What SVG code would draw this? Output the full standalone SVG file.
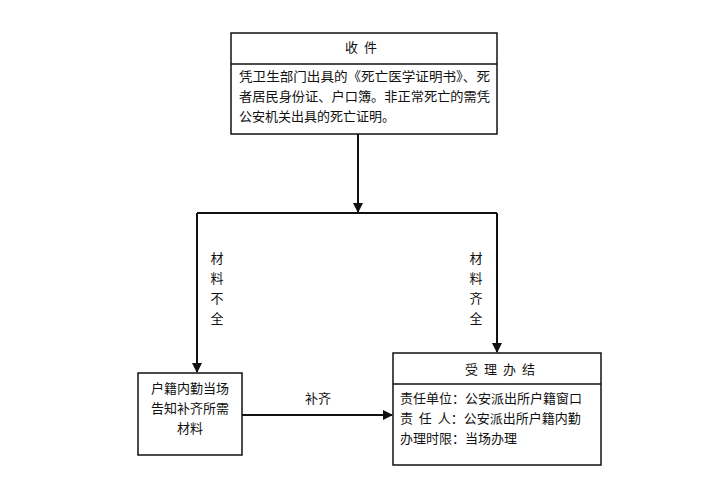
<svg xmlns="http://www.w3.org/2000/svg" width="704" height="500" viewBox="0 0 704 500">
<style>
text{font-family:"Noto Sans CJK SC","Liberation Serif",serif;font-size:13px;fill:#111}
.b{fill:#fff;stroke:#111;stroke-width:1.5}
.c{stroke:#111;stroke-width:2;fill:none}
.m{text-anchor:middle}
</style>
<defs><marker id="a" markerWidth="10" markerHeight="10" refX="9" refY="5" orient="auto" markerUnits="userSpaceOnUse"><path d="M0,0 L10,5 L0,10 z" fill="#111"/></marker></defs>
<rect width="704" height="500" fill="#fff"/>
<g id="connectors">
<path class="c" d="M358,134 V212" marker-end="url(#a)"/>
<path class="c" d="M197,213 H497"/>
<path class="c" d="M197,213 V372" marker-end="url(#a)"/>
<path class="c" d="M497,213 V352" marker-end="url(#a)"/>
<path class="c" d="M242,415 H392" marker-end="url(#a)"/>
<text class="m" x="217" y="263">材</text><text class="m" x="217" y="283">料</text><text class="m" x="217" y="303">不</text><text class="m" x="217" y="323">全</text>
<text class="m" x="476" y="263">材</text><text class="m" x="476" y="283">料</text><text class="m" x="476" y="303">齐</text><text class="m" x="476" y="323">全</text>
<text class="m" x="318" y="403">补齐</text>
</g>
<g id="n1">
<rect class="b" x="231" y="33" width="266" height="101"/>
<line x1="231" y1="64" x2="497" y2="64" stroke="#111" stroke-width="1.5"/>
<text class="m" x="364" y="52" letter-spacing="6">收件</text>
<text x="239" y="81" textLength="251" lengthAdjust="spacingAndGlyphs">凭卫生部门出具的《死亡医学证明书》、死</text>
<text x="239" y="101" textLength="251" lengthAdjust="spacingAndGlyphs">者居民身份证、户口簿。非正常死亡的需凭</text>
<text x="239" y="121">公安机关出具的死亡证明。</text>
</g>
<g id="n2">
<rect class="b" x="138" y="373" width="104" height="82"/>
<text class="m" x="190" y="393">户籍内勤当场</text>
<text class="m" x="190" y="413">告知补齐所需</text>
<text class="m" x="190" y="433">材料</text>
</g>
<g id="n3">
<rect class="b" x="393" y="353" width="208" height="112"/>
<line x1="393" y1="384" x2="601" y2="384" stroke="#111" stroke-width="1.5"/>
<text class="m" x="503" y="374" letter-spacing="6">受理办结</text>
<text x="400" y="403">责任单位：公安派出所户籍窗口</text>
<text x="400" y="423" xml:space="preserve">责  任  人：公安派出所户籍内勤</text>
<text x="400" y="443">办理时限：当场办理</text>
</g>
</svg>
